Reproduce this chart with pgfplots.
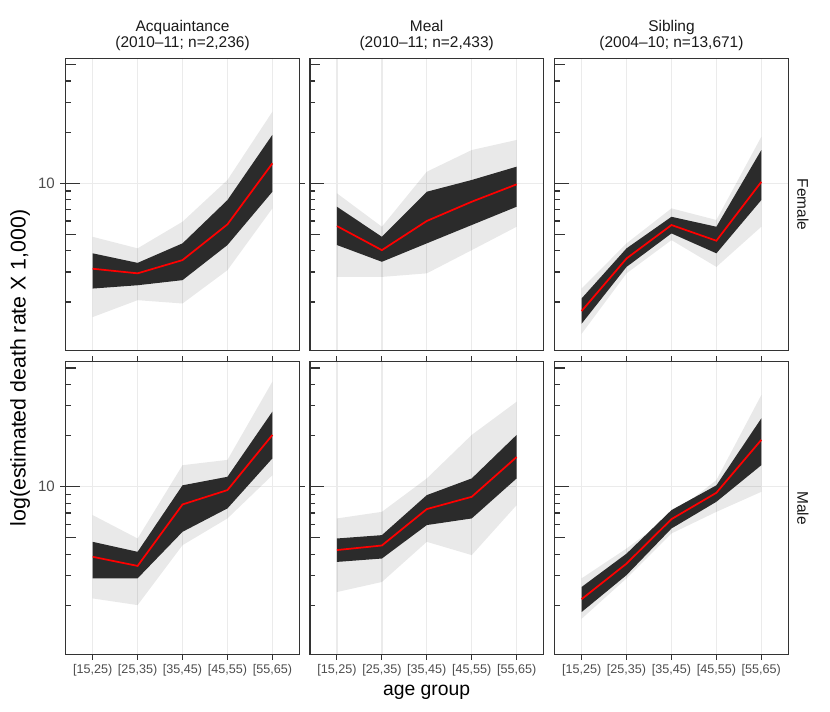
\documentclass[border=0pt]{standalone}
\usepackage{fontspec}
\setmainfont{Liberation Sans}
\usepackage{pgfplots}
\pgfplotsset{compat=1.18}

\definecolor{gridc}{HTML}{EBEBEB}
\definecolor{framec}{HTML}{333333}
\definecolor{tickc}{HTML}{4D4D4D}
\definecolor{stripc}{HTML}{1A1A1A}
\definecolor{core}{HTML}{2B2B2B}

\tikzset{logt/.style={framec, line width=0.9pt}}

% annotation_logticks on the left edge of each panel
\newcommand{\logticks}{%
  \draw[logt] (axis cs:0.4,2) -- ++(3.75pt,0pt);
  \draw[logt] (axis cs:0.4,3) -- ++(3.75pt,0pt);
  \draw[logt] (axis cs:0.4,4) -- ++(3.75pt,0pt);
  \draw[logt] (axis cs:0.4,5) -- ++(7.5pt,0pt);
  \draw[logt] (axis cs:0.4,6) -- ++(3.75pt,0pt);
  \draw[logt] (axis cs:0.4,7) -- ++(3.75pt,0pt);
  \draw[logt] (axis cs:0.4,8) -- ++(3.75pt,0pt);
  \draw[logt] (axis cs:0.4,9) -- ++(3.75pt,0pt);
  \draw[logt] (axis cs:0.4,10) -- ++(10.7pt,0pt);
  \draw[logt] (axis cs:0.4,20) -- ++(3.75pt,0pt);
  \draw[logt] (axis cs:0.4,30) -- ++(3.75pt,0pt);
  \draw[logt] (axis cs:0.4,40) -- ++(3.75pt,0pt);
  \draw[logt] (axis cs:0.4,50) -- ++(7.5pt,0pt);
}

\pgfplotsset{
  facetaxis/.style={
    anchor=north west, scale only axis,
    width=175.2pt, height=219.5pt,
    xmin=0.4, xmax=5.6, ymin=1.03, ymax=54.5,
    xtick={1,2,3,4,5}, ytick={10}, yticklabels={10},
    xticklabels={{[15,25)},{[25,35)},{[35,45)},{[45,55)},{[55,65)}},
    xmajorgrids, ymajorgrids, grid style={gridc, line width=1pt},
    axis line style={framec, line width=0.8pt},
    tick align=outside, major tick length=4pt,
    tick style={framec, line width=0.8pt},
    ticklabel style={text=tickc, inner sep=0pt},
    xticklabel style={font=\fontsize{9.45}{11}\selectfont, yshift=-3.3pt},
    yticklabel style={font=\fontsize{11.3}{13}\selectfont, xshift=-4pt},
    clip=false,
  },
  facettop/.style={xticklabels={}, xtick style={draw=none}},
  facetinner/.style={yticklabels={}, ytick style={draw=none}},
  faint/.style={fill=black, fill opacity=0.085, draw=none},
  dense/.style={fill=core, draw=none},
  est/.style={red, line width=1.3pt},
}

\begin{document}
\begin{tikzpicture}
\useasboundingbox (0,0) rectangle (622.5pt,-534pt);

% Acquaintance, Female
\begin{axis}[ymode=log, facetaxis, facettop, at={(49.3pt,-43.7pt)}]
\addplot[faint] coordinates {(1,1.63)(2,2.05)(3,1.96)(4,3.08)(5,7.12)(5,26.4)(4,10.46)(3,5.94)(2,4.14)(1,4.84)};
\addplot[dense] coordinates {(1,2.40)(2,2.51)(3,2.69)(4,4.33)(5,8.92)(5,19.3)(4,7.97)(3,4.43)(2,3.40)(1,3.87)};
\addplot[est] coordinates {(1,3.14)(2,2.95)(3,3.53)(4,5.73)(5,13.1)};
\logticks
\end{axis}

% Meal, Female
\begin{axis}[ymode=log, facetaxis, facettop, facetinner, at={(232.5pt,-43.7pt)}]
\addplot[faint] coordinates {(1,2.81)(2,2.81)(3,2.95)(4,4.04)(5,5.55)(5,18.0)(4,15.7)(3,11.7)(2,5.55)(1,8.73)};
\addplot[dense] coordinates {(1,4.33)(2,3.45)(3,4.43)(4,5.68)(5,7.28)(5,12.53)(4,10.46)(3,8.92)(2,4.84)(1,7.28)};
\addplot[est] coordinates {(1,5.60)(2,4.04)(3,6.00)(4,7.79)(5,9.86)};
\logticks
\end{axis}

% Sibling, Female
\begin{axis}[ymode=log, facetaxis, facettop, facetinner, at={(416pt,-43.7pt)}]
\addplot[faint] coordinates {(1,1.30)(2,2.95)(3,4.63)(4,3.22)(5,5.55)(5,18.8)(4,6.08)(3,7.12)(2,4.43)(1,2.40)};
\addplot[dense] coordinates {(1,1.49)(2,3.22)(3,5.07)(4,3.87)(5,7.97)(5,15.7)(4,5.55)(3,6.35)(2,4.14)(1,2.10)};
\addplot[est] coordinates {(1,1.77)(2,3.61)(3,5.68)(4,4.59)(5,10.2)};
\logticks
\end{axis}

% Acquaintance, Male
\begin{axis}[ymode=log, facetaxis, at={(49.3pt,-271.3pt)}]
\addplot[faint] coordinates {(1,2.20)(2,2.01)(3,4.53)(4,6.51)(5,11.7)(5,41.6)(4,14.4)(3,13.4)(2,4.96)(1,6.81)};
\addplot[dense] coordinates {(1,2.89)(2,2.89)(3,5.43)(4,7.46)(5,14.7)(5,27.7)(4,11.45)(3,10.2)(2,4.14)(1,4.74)};
\addplot[est] coordinates {(1,3.87)(2,3.42)(3,7.87)(4,9.56)(5,20.2)};
\logticks
\end{axis}

% Meal, Male
\begin{axis}[ymode=log, facetaxis, facetinner, at={(232.5pt,-271.3pt)}]
\addplot[faint] coordinates {(1,2.40)(2,2.75)(3,4.74)(4,3.96)(5,7.80)(5,31.7)(4,20.2)(3,11.2)(2,7.12)(1,6.51)};
\addplot[dense] coordinates {(1,3.61)(2,3.78)(3,5.95)(4,6.51)(5,11.2)(5,20.2)(4,11.2)(3,8.93)(2,5.19)(1,4.96)};
\addplot[est] coordinates {(1,4.24)(2,4.51)(3,7.39)(4,8.73)(5,14.97)};
\logticks
\end{axis}

% Sibling, Male
\begin{axis}[ymode=log, facetaxis, facetinner, at={(416pt,-271.3pt)}]
\addplot[faint] coordinates {(1,1.67)(2,2.89)(3,5.31)(4,7.12)(5,9.34)(5,34.7)(4,10.95)(3,6.81)(2,4.33)(1,2.89)};
\addplot[dense] coordinates {(1,1.83)(2,3.02)(3,5.68)(4,8.16)(5,13.4)(5,25.3)(4,10.2)(3,7.29)(2,4.04)(1,2.57)};
\addplot[est] coordinates {(1,2.18)(2,3.53)(3,6.45)(4,9.22)(5,18.9)};
\logticks
\end{axis}

\tikzset{strip/.style={font=\fontsize{11.6}{13}\selectfont, text=stripc, inner sep=0pt}}
\node[strip, anchor=base] at (136.9pt,-23.8pt) {Acquaintance};
\node[strip, anchor=base] at (136.9pt,-36pt) {(2010–11; n=2,236)};
\node[strip, anchor=base] at (320pt,-23.8pt) {Meal};
\node[strip, anchor=base] at (320pt,-36pt) {(2010–11; n=2,433)};
\node[strip, anchor=base] at (503.6pt,-23.8pt) {Sibling};
\node[strip, anchor=base] at (503.6pt,-36pt) {(2004–10; n=13,671)};

\node[strip, rotate=-90, anchor=south] at (597.75pt,-153.5pt) {Female};
\node[strip, rotate=-90, anchor=south] at (597.75pt,-381pt) {Male};

\node[anchor=base, inner sep=0pt, font=\fontsize{14.5}{17}\selectfont] at (320pt,-521.3pt) {age group};
\node[rotate=90, inner sep=0pt, font=\fontsize{16}{19}\selectfont] at (15pt,-276pt) {log(estimated death rate X 1,000)};
\end{tikzpicture}
\end{document}
